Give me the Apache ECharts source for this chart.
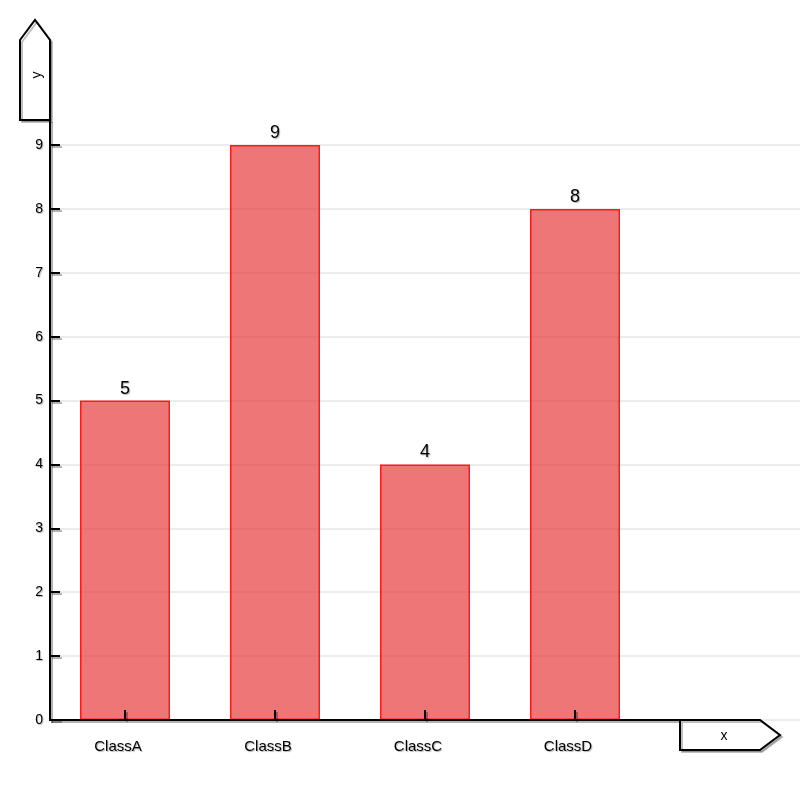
<!DOCTYPE html>
<html>
<head>
<meta charset="utf-8">
<script src="https://cdn.jsdelivr.net/npm/echarts@6/dist/echarts.min.js"></script>
<style>html,body{margin:0;padding:0;background:#fff;}#c{width:800px;height:800px;}</style>
</head>
<body>
<div id="c"></div>
<script>
const categories = ['ClassA', 'ClassB', 'ClassC', 'ClassD'];
const values = [5, 9, 4, 8];
const yTicks = [0, 1, 2, 3, 4, 5, 6, 7, 8, 9];

const chart = echarts.init(document.getElementById('c'), null, {renderer: 'canvas'});
const font = 'Liberation Sans, Arial, sans-serif';
const shadowText = {textShadowColor: 'rgba(0,0,0,0.3)', textShadowBlur: 1, textShadowOffsetX: 1, textShadowOffsetY: 1};

chart.setOption({
  animation: false,
  backgroundColor: '#fff',
  grid: {left: 50, right: 0, top: 145, bottom: 80, containLabel: false},
  xAxis: {
    type: 'category',
    data: categories,
    max: 4,
    z: 5,
    axisLine: {show: false},
    axisTick: {show: true, inside: true, length: 10, alignWithLabel: true,
      interval: function (idx) { return idx < categories.length; },
      lineStyle: {color: '#000', width: 2, shadowColor: 'rgba(0,0,0,0.3)', shadowOffsetX: 2, shadowOffsetY: 2}},
    axisLabel: Object.assign({color: '#000', fontSize: 15, fontFamily: font, margin: 19, interval: 0, padding: [0, 14, 0, 0]}, shadowText),
    splitLine: {show: false}
  },
  yAxis: {
    type: 'value',
    min: yTicks[0],
    max: yTicks[yTicks.length - 1],
    interval: 1,
    z: 0,
    axisLine: {show: false},
    axisTick: {show: true, inside: true, length: 10,
      lineStyle: {color: '#000', width: 2, shadowColor: 'rgba(0,0,0,0.3)', shadowOffsetX: 2, shadowOffsetY: 2}},
    axisLabel: Object.assign({color: '#000', fontSize: 14, fontFamily: font, margin: 7, padding: [3, 0, 0, 0]}, shadowText),
    splitLine: {show: true, lineStyle: {color: '#ececec', width: 2}}
  },
  series: [{
    type: 'bar',
    data: values,
    barWidth: '60%',
    itemStyle: {color: 'rgba(232,60,60,0.7)', borderColor: '#ff1a1a', borderWidth: 1.5},
    label: Object.assign({show: true, position: 'top', color: '#000', fontSize: 18, fontFamily: font, distance: 3}, shadowText),
    z: 2
  }],
  graphic: [
    {type: 'line', shape: {x1: 50, y1: 120, x2: 50, y2: 721}, style: {stroke: '#000', lineWidth: 2, shadowColor: 'rgba(0,0,0,0.3)', shadowOffsetX: 2, shadowOffsetY: 2}, z: 10},
    {type: 'line', shape: {x1: 49, y1: 720, x2: 680, y2: 720}, style: {stroke: '#000', lineWidth: 2, shadowColor: 'rgba(0,0,0,0.3)', shadowOffsetX: 2, shadowOffsetY: 2}, z: 10},
    {type: 'polygon', shape: {points: [[20, 120], [20, 40], [35, 20], [50, 40], [50, 120]]},
      style: {fill: '#fff', stroke: '#000', lineWidth: 2, shadowColor: 'rgba(0,0,0,0.25)', shadowOffsetX: 2, shadowOffsetY: 2}, z: 10},
    {type: 'text', x: 37, y: 75, rotation: Math.PI / 2,
      style: {text: 'y', fill: '#000', font: '14px Liberation Sans, Arial, sans-serif', align: 'center', verticalAlign: 'middle'}, z: 11},
    {type: 'polygon', shape: {points: [[680, 720], [760, 720], [780, 735], [760, 750], [680, 750]]},
      style: {fill: '#fff', stroke: '#000', lineWidth: 2, shadowColor: 'rgba(0,0,0,0.25)', shadowOffsetX: 2, shadowOffsetY: 2}, z: 10},
    {type: 'text', x: 724, y: 736,
      style: {text: 'x', fill: '#000', font: '14px Liberation Sans, Arial, sans-serif', align: 'center', verticalAlign: 'middle'}, z: 11}
  ]
});
</script>
</body>
</html>
